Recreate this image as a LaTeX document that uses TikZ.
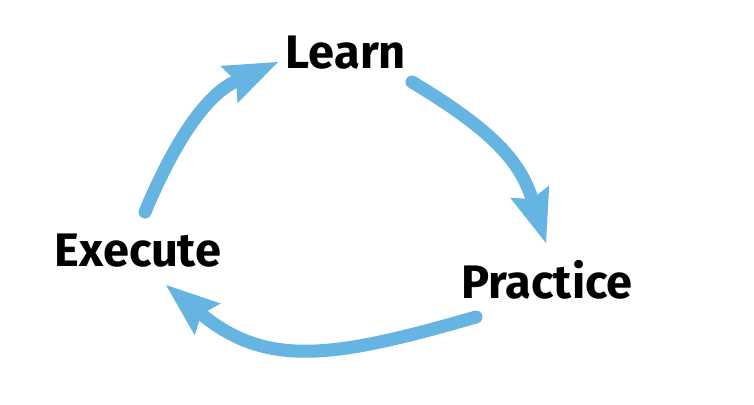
\documentclass[tikz,border=0pt]{standalone}
\usepackage{fontspec}
\setmainfont{Fira Sans}
\usetikzlibrary{arrows.meta}
\definecolor{SkyArrow}{HTML}{66B4E1}
\tikzset{
  stagelabel/.style={font=\fontsize{47}{50}\selectfont\bfseries, text=black,
    inner sep=0pt, anchor=base},
  cyclearr/.style={-{Stealth[length=54pt,width=41pt,inset=8pt,line width=0pt]},
    line width=13pt, line cap=round, color=SkyArrow},
}
\begin{document}
\begin{tikzpicture}[x=1pt,y=-1pt]
  \useasboundingbox (0,0) rectangle (754,404);
  \node[stagelabel] (learn)    at (346,68)  {Learn};
  \node[stagelabel] (practice) at (547,298) {Practice};
  \node[stagelabel] (execute)  at (138,266) {Execute};

  % free ends of the three arrows
  \coordinate (execute-out)  at (145,212);
  \coordinate (learn-in)     at (278,62);
  \coordinate (learn-out)    at (412,82);
  \coordinate (practice-in)  at (546,243);
  \coordinate (practice-out) at (476,317);
  \coordinate (execute-in)   at (166,285);

  \draw[cyclearr] (execute-out) .. controls (192,100) and (228,85) .. (learn-in);
  \draw[cyclearr] (learn-out) .. controls (492,130) and (520,161) .. (practice-in);
  \draw[cyclearr] (practice-out) .. controls (337,357) and (268,369) .. (execute-in);
\end{tikzpicture}
\end{document}
